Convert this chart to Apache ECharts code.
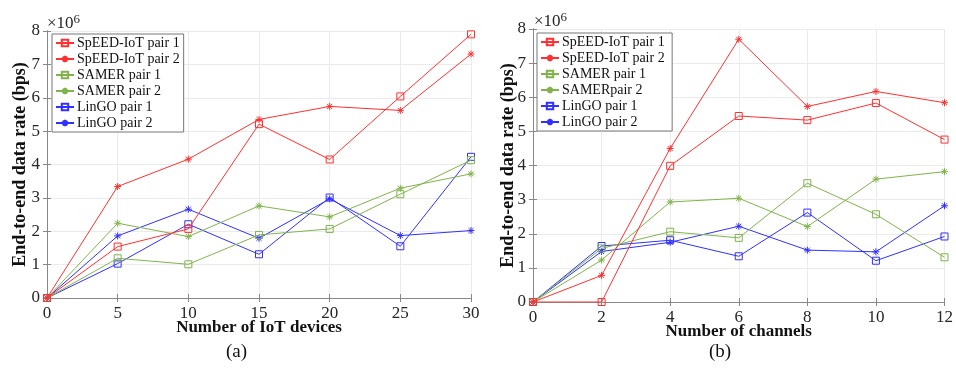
<!DOCTYPE html>
<html><head><meta charset="utf-8">
<script src="https://cdn.jsdelivr.net/npm/echarts@6/dist/echarts.min.js"></script>
<style>html,body{margin:0;padding:0;background:#fff}#c{width:956px;height:375px}</style>
</head><body><div id="c"></div>
<script>
// Left chart (a)
const devices = [0, 5, 10, 15, 20, 25, 30];
const speedP1_a = [0, 1.54, 2.07, 5.21, 4.15, 6.04, 7.90];
const speedP2_a = [0, 3.34, 4.16, 5.35, 5.74, 5.62, 7.31];
const samerP1_a = [0, 1.19, 1.01, 1.89, 2.07, 3.11, 4.13];
const samerP2_a = [0, 2.24, 1.84, 2.76, 2.43, 3.29, 3.72];
const lingoP1_a = [0, 1.03, 2.21, 1.31, 3.01, 1.55, 4.23];
const lingoP2_a = [0, 1.86, 2.66, 1.79, 2.97, 1.87, 2.02];
// Right chart (b)
const channels = [0, 2, 4, 6, 8, 10, 12];
const speedP1_b = [0, 0, 3.99, 5.45, 5.33, 5.83, 4.76];
const speedP2_b = [0, 0.78, 4.50, 7.70, 5.73, 6.17, 5.84];
const samerP1_b = [0, 1.57, 2.06, 1.88, 3.48, 2.57, 1.31];
const samerP2_b = [0, 1.23, 2.93, 3.04, 2.21, 3.60, 3.82];
const lingoP1_b = [0, 1.64, 1.81, 1.34, 2.62, 1.21, 1.92];
const lingoP2_b = [0, 1.48, 1.75, 2.22, 1.52, 1.47, 2.82];

const namesA = ['SpEED-IoT pair 1','SpEED-IoT pair 2','SAMER pair 1','SAMER pair 2','LinGO pair 1','LinGO pair 2'];
const namesB = ['SpEED-IoT pair 1 ','SpEED-IoT pair 2 ','SAMER pair 1 ','SAMERpair 2','LinGO pair 1 ','LinGO pair 2 '];
const xTitleA = 'Number of IoT devices';
const xTitleB = 'Number of channels';
const yTitle = 'End-to-end data rate (bps)';

const RED = '#ff3030', GREEN = '#80b44a', BLUE = '#3030ff';
const colors = [RED, RED, GREEN, GREEN, BLUE, BLUE];
const SQ = 'path://M-1,-1 L1,-1 L1,1 L-1,1 Z';
const ST = 'path://M0,-1 L0,1 M-1,0 L1,0 M-0.72,-0.72 L0.72,0.72 M-0.72,0.72 L0.72,-0.72';
const syms = [SQ, ST, SQ, ST, SQ, ST];
const FONT = '"Liberation Serif","Times New Roman",serif';

function mk(name, xs, ys, i, gi) {
  return {
    name: name, type: 'line', xAxisIndex: gi*2, yAxisIndex: gi*2,
    data: xs.map((x, k) => [x, ys[k]]),
    symbol: syms[i], symbolSize: 7, showSymbol: true,
    lineStyle: {color: colors[i], width: 1},
    itemStyle: {color: 'rgba(255,255,255,0)', borderColor: colors[i], borderWidth: 1},
    emphasis: {disabled: true}, animation: false, z: 10 - i
  };
}

const axisTick = {show: true, inside: true, length: 4, lineStyle: {color: '#888'}};
const axisLabel = {color: '#262626', fontFamily: FONT, fontSize: 17, margin: 7};
function xAx(gi, max, itv, title) {
  return [{
    type: 'value', gridIndex: gi, min: 0, max: max, interval: itv, position: 'bottom',
    axisLine: {show: true, lineStyle: {color: '#888'}}, axisTick: axisTick, axisLabel: axisLabel,
    splitLine: {show: true, lineStyle: {color: '#ebebeb'}},
    name: title, nameLocation: 'middle', nameGap: 21, nameMoveOverlap: false,
    nameTextStyle: {color: '#111', fontFamily: FONT, fontSize: 17, fontWeight: 'bold'}
  }, {
    type: 'value', gridIndex: gi, min: 0, max: max, interval: itv, position: 'top',
    axisLine: {show: true, lineStyle: {color: '#888'}}, axisTick: axisTick,
    axisLabel: {show: false}, splitLine: {show: false}
  }];
}
function yAx(gi, gap) {
  return [{
    type: 'value', gridIndex: gi, min: 0, max: 8, interval: 1, position: 'left',
    axisLine: {show: true, lineStyle: {color: '#888'}}, axisTick: axisTick, axisLabel: axisLabel,
    splitLine: {show: true, lineStyle: {color: '#ebebeb'}},
    name: yTitle, nameLocation: 'middle', nameGap: gap, nameMoveOverlap: false,
    nameTextStyle: {color: '#111', fontFamily: FONT, fontSize: 18, fontWeight: 'bold'}
  }, {
    type: 'value', gridIndex: gi, min: 0, max: 8, interval: 1, position: 'right',
    axisLine: {show: true, lineStyle: {color: '#888'}}, axisTick: axisTick,
    axisLabel: {show: false}, splitLine: {show: false}
  }];
}
function legend(left, top, names) {
  return {
    show: true, orient: 'vertical', left: left, top: top, data: names,
    backgroundColor: '#fff', borderColor: '#777', borderWidth: 1,
    padding: [2, 4, 2, 3], itemWidth: 18, itemHeight: 8, itemGap: 2,
    textStyle: {color: '#111', fontFamily: FONT, fontSize: 14, lineHeight: 14, padding: [0, 0, 0, -2]},
    selectedMode: false
  };
}

const series = [];
[speedP1_a, speedP2_a, samerP1_a, samerP2_a, lingoP1_a, lingoP2_a].forEach((ys, i) => series.push(mk(namesA[i], devices, ys, i, 0)));
[speedP1_b, speedP2_b, samerP1_b, samerP2_b, lingoP1_b, lingoP2_b].forEach((ys, i) => series.push(mk(namesB[i], channels, ys, i, 1)));

const chart = echarts.init(document.getElementById('c'), null, {renderer: 'canvas'});
chart.setOption({
  backgroundColor: '#fff', animation: false,
  grid: [
    {left: 47, top: 31, width: 424, height: 267},
    {left: 533, top: 29, width: 415, height: 273}
  ],
  xAxis: [...xAx(0, 30, 5, xTitleA), ...xAx(1, 12, 2, xTitleB)],
  yAxis: [...yAx(0, 18), ...yAx(1, 16)],
  legend: [legend(52, 34, namesA), legend(537, 33, namesB)],
  series: series,
  graphic: [
    {type: 'text', left: 47, top: 13, style: {text: '×10{s|6}', fill: '#262626', font: '17px ' + FONT,
      rich: {s: {fontSize: 13, verticalAlign: 'top', padding: [0,0,8,0], fontFamily: FONT}}}},
    {type: 'text', left: 534, top: 11, style: {text: '×10{s|6}', fill: '#262626', font: '17px ' + FONT,
      rich: {s: {fontSize: 13, verticalAlign: 'top', padding: [0,0,8,0], fontFamily: FONT}}}},
    {type: 'text', left: 226, top: 343, style: {text: '(a)', fill: '#111', font: '19px ' + FONT}},
    {type: 'text', left: 709, top: 343, style: {text: '(b)', fill: '#111', font: '19px ' + FONT}}
  ]
});
</script></body></html>
